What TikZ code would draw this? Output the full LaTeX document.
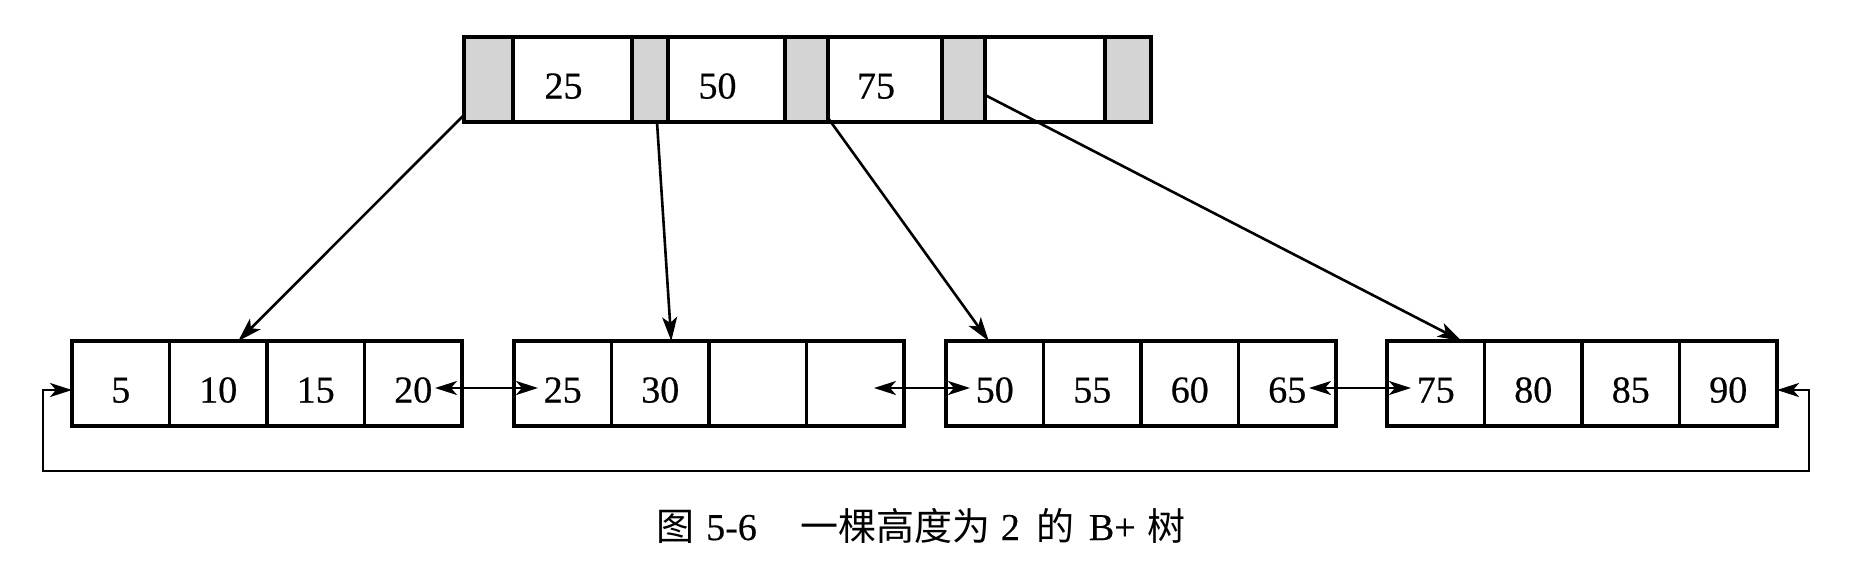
\documentclass[tikz,border=0pt]{standalone}
\usepackage{fontspec}
\setmainfont{Liberation Serif}[FakeBold=0.5]
\newfontfamily\cjk{Noto Sans CJK SC}
\usetikzlibrary{arrows.meta}
\begin{document}
\begin{tikzpicture}[x=1pt,y=-1pt,
  base/.style={draw, line width=3.1pt, minimum height=85pt, inner sep=0pt, outer sep=0pt,
    anchor=north west, font=\fontsize{38pt}{40pt}\selectfont, text height=38pt, text depth=0pt},
  gcell/.style={base, fill=black!17},
  kcell/.style={base},
  lcell/.style={base, minimum width=97.5pt},
  ptr/.style={line width=2.6pt, -{Stealth[length=24pt,width=15pt,inset=6pt]}},
  dbl/.style={line width=2.8pt, {Stealth[length=22pt,width=14pt,inset=6pt]}-{Stealth[length=22pt,width=14pt,inset=6pt]}},
  loopline/.style={line width=2.8pt, {Stealth[length=22pt,width=14pt,inset=6pt]}-{Stealth[length=22pt,width=14pt,inset=6pt]}},
  caption/.style={anchor=base west, inner sep=0pt, font=\fontsize{38pt}{40pt}\selectfont}
]
\useasboundingbox (0,0) rectangle (1855,563);

% root node
\node[gcell, minimum width=49pt]  (g1) at (464,37) {};
\node[kcell, minimum width=119pt] (k1) at (513,37) {25\hspace*{18pt}};
\node[gcell, minimum width=36pt]  (g2) at (632,37) {};
\node[kcell, minimum width=117pt] (k2) at (668,37) {50\hspace*{18pt}};
\node[gcell, minimum width=43pt]  (g3) at (785,37) {};
\node[kcell, minimum width=114pt] (k3) at (828,37) {75\hspace*{18pt}};
\node[gcell, minimum width=43pt]  (g4) at (942,37) {};
\node[kcell, minimum width=120pt] (k4) at (985,37) {};
\node[gcell, minimum width=46pt]  (g5) at (1105,37) {};

% leaf nodes
\foreach \l/\x/\a/\b/\c/\d in {1/72/5/10/15/20, 2/514/25/30//, 3/946/50/55/60/65, 4/1387/75/80/85/90}{
  \node[lcell] (L\l-1) at (\x,341) {\a};
  \node[lcell] (L\l-2) at ({\x+97.5},341) {\b};
  \node[lcell] (L\l-3) at ({\x+195},341) {\c};
  \node[lcell] (L\l-4) at ({\x+292.5},341) {\d};
}

% pointers from root to leaves
\draw[ptr] ([yshift=7pt]g1.south west) -- ([xshift=20pt]L1-2.north);
\draw[ptr] ([xshift=7pt]g2.south) -- ([xshift=11pt]L2-2.north);
\draw[ptr] ([yshift=4pt]g3.south east) -- ([xshift=-6pt]L3-1.north);
\draw[ptr] ([yshift=-15.5pt]g4.east) -- ([xshift=26pt]L4-1.north);

% sibling links
\draw[dbl] ([xshift=-27pt,yshift=-4.5pt]L1-4.east) -- ([xshift=24pt,yshift=-4.5pt]L2-1.west);
\draw[dbl] ([xshift=-30pt,yshift=-4.5pt]L2-4.east) -- ([xshift=24pt,yshift=-4.5pt]L3-1.west);
\draw[dbl] ([xshift=-27pt,yshift=-4.5pt]L3-4.east) -- ([xshift=24pt,yshift=-4.5pt]L4-1.west);

% wrap-around link
\coordinate (loopR) at (1809,471);
\coordinate (loopL) at (43,471);
\draw[loopline] ([yshift=-6.5pt]L4-4.east) -| (loopR) -- (loopL) |- ([yshift=-6.5pt]L1-1.west);

% caption
\node[caption] (cap) at (656,540) {\cjk 图\hspace{12pt}\rmfamily 5-6\hspace{44pt}\cjk 一棵高度为\hspace{10pt}\rmfamily 2\hspace{17pt}\cjk 的\hspace{14pt}\rmfamily B+\hspace{12pt}\cjk 树};
\end{tikzpicture}
\end{document}
